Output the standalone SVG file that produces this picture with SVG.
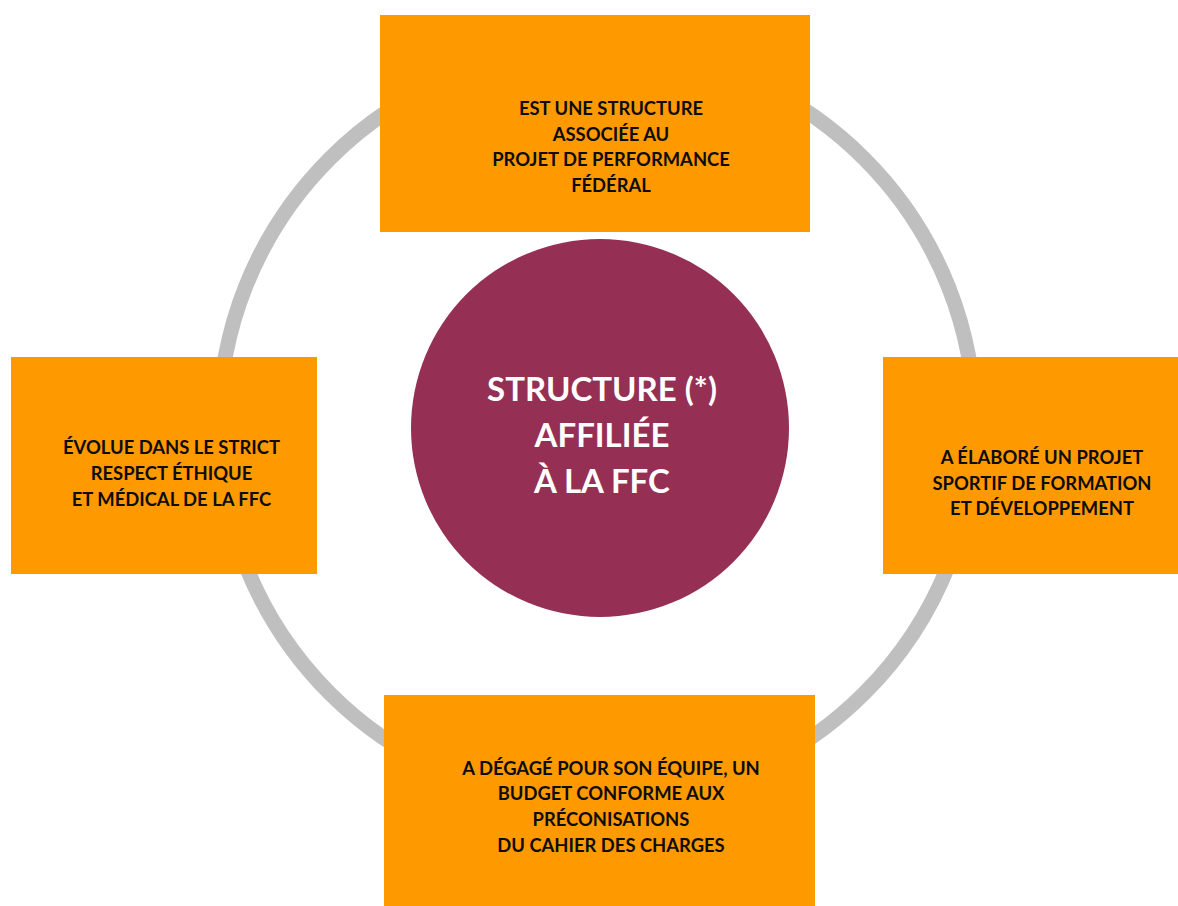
<svg xmlns="http://www.w3.org/2000/svg" width="1178" height="906" viewBox="0 0 1178 906">
<style>
.box{fill:#FF9900;}
.lbl{font-family:Lato,"Open Sans","Liberation Sans",sans-serif;font-weight:bold;font-size:18.4px;fill:#0D0D0D;text-anchor:middle;}
.ctr{font-family:Lato,"Open Sans","Liberation Sans",sans-serif;font-weight:bold;font-size:33px;fill:#FFFFFF;text-anchor:middle;}
</style>
<rect width="1178" height="906" fill="#FFFFFF"/>
<g id="connectors">
<circle cx="597" cy="426" r="378" fill="none" stroke="#BFBFBF" stroke-width="15"/>
</g>
<g id="center">
<circle cx="600" cy="428" r="189" fill="#952F53"/>
<text class="ctr"><tspan x="602" y="401">STRUCTURE (*)</tspan><tspan x="602" y="447">AFFILIÉE</tspan><tspan x="602" y="493">À LA FFC</tspan></text>
</g>
<g id="top">
<rect class="box" x="380" y="15" width="430" height="217"/>
<text class="lbl"><tspan x="611" y="115">EST UNE STRUCTURE</tspan><tspan x="611" y="140.5">ASSOCIÉE AU</tspan><tspan x="611" y="166">PROJET DE PERFORMANCE</tspan><tspan x="611" y="192">FÉDÉRAL</tspan></text>
</g>
<g id="right">
<rect class="box" x="883" y="357" width="295" height="217"/>
<text class="lbl"><tspan x="1042" y="463.5">A ÉLABORÉ UN PROJET</tspan><tspan x="1042" y="489.5">SPORTIF DE FORMATION</tspan><tspan x="1042" y="515">ET DÉVELOPPEMENT</tspan></text>
</g>
<g id="left">
<rect class="box" x="11" y="357" width="306" height="217"/>
<text class="lbl"><tspan x="171.5" y="454">ÉVOLUE DANS LE STRICT</tspan><tspan x="171.5" y="480">RESPECT ÉTHIQUE</tspan><tspan x="171.5" y="505.5">ET MÉDICAL DE LA FFC</tspan></text>
</g>
<g id="bottom">
<rect class="box" x="384" y="695" width="431" height="211"/>
<text class="lbl"><tspan x="611" y="774.5">A DÉGAGÉ POUR SON ÉQUIPE, UN</tspan><tspan x="611" y="800">BUDGET CONFORME AUX</tspan><tspan x="611" y="826">PRÉCONISATIONS</tspan><tspan x="611" y="852">DU CAHIER DES CHARGES</tspan></text>
</g>
</svg>
